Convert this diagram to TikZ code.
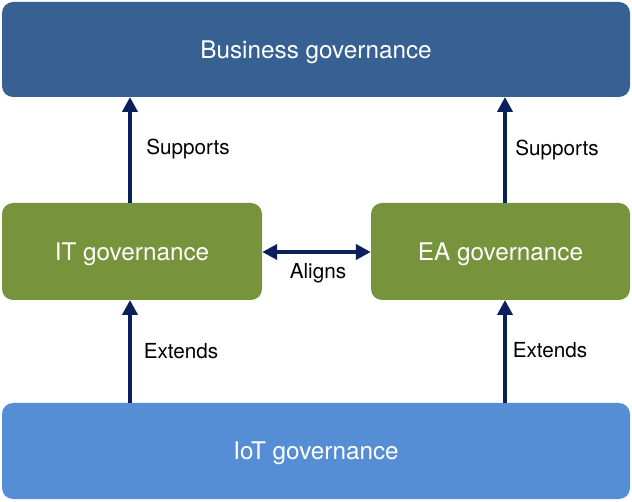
\documentclass[tikz,border=0pt]{standalone}
\usepackage{fontspec}
\setmainfont{TeX Gyre Heros}
\usetikzlibrary{arrows.meta}
\definecolor{topblue}{HTML}{376093}
\definecolor{midgreen}{HTML}{77933C}
\definecolor{lowblue}{HTML}{558ED5}
\definecolor{navy}{HTML}{0A1F5C}
\tikzset{
  gbox/.style={rounded corners=11pt, inner sep=0pt, text=white, text depth=0pt, font=\fontsize{24.3}{28}\selectfont},
  lbl/.style={font=\fontsize{20.7}{24}\selectfont, text=black, inner sep=0pt, text depth=0pt},
  conn/.style={draw=navy, line width=4.5pt, -{Triangle[width=15pt,length=15pt]}},
  conn2/.style={draw=navy, line width=4.5pt, {Triangle[width=15pt,length=15pt]}-{Triangle[width=15pt,length=15pt]}}
}
\begin{document}
\begin{tikzpicture}[x=1pt,y=-1pt]
\useasboundingbox (0,0) rectangle (632,502);
\node[gbox, fill=topblue, minimum width=628pt, minimum height=95pt] (bus) at (316,49.5) {Business governance};
\node[gbox, fill=midgreen, minimum width=260pt, minimum height=97pt] (it) at (132,251.5) {IT governance};
\node[gbox, fill=midgreen, minimum width=259pt, minimum height=97pt] (ea) at (500.5,251.5) {EA governance};
\node[gbox, fill=lowblue, minimum width=628pt, minimum height=96pt] (iot) at (316,451) {IoT governance};
\coordinate (itL) at (130,203);
\coordinate (eaL) at (505,203);
\coordinate (busL) at (130,97);
\coordinate (busR) at (505,97);
\coordinate (iotL) at (130,403);
\coordinate (iotR) at (505,403);
\coordinate (itT) at (130,300);
\coordinate (eaT) at (505,300);
\draw[conn] (itL) -- (busL);
\draw[conn] (eaL) -- (busR);
\draw[conn] (iotL) -- (itT);
\draw[conn] (iotR) -- (eaT);
\draw[conn2] (it.east |- 0,252) -- (ea.west |- 0,252);
\node[lbl] (s1) at (188,147) {Supports};
\node[lbl] (s2) at (557,148) {Supports};
\node[lbl] (al) at (318,271) {Aligns};
\node[lbl] (e1) at (181,351) {Extends};
\node[lbl] (e2) at (550,350) {Extends};
\end{tikzpicture}
\end{document}
